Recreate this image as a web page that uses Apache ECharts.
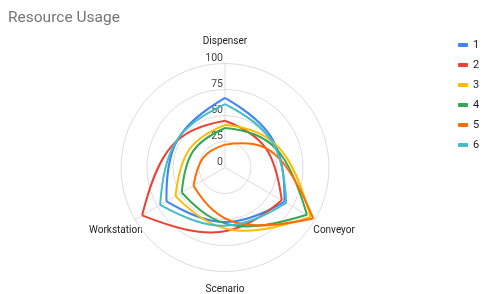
<!DOCTYPE html>
<html><head><meta charset="utf-8">
<script src="https://cdn.jsdelivr.net/npm/echarts@6/dist/echarts.min.js"></script>
<style>html,body{margin:0;padding:0;background:#fff}#c{width:482px;height:294px}</style>
</head><body><div id="c"></div>
<script>
const indicators = ['Dispenser', 'Conveyor', 'Workstation'];
const seriesNames = ['1', '2', '3', '4', '5', '6'];
const s1 = [67, 66, 65];
const s2 = [45, 63, 92];
const s3 = [41, 95, 55];
const s4 = [38, 91, 48];
const s5 = [22, 98, 35];
const s6 = [61, 68, 72];
const radiusTicks = [0, 25, 50, 75, 100];
const colors = ['#4285F4', '#EA4335', '#FBBC04', '#34A853', '#FF6D01', '#46BDC6'];
const allSeries = [s1, s2, s3, s4, s5, s6];

const FONT = 'Roboto';
const CX = 225, CY = 167.5, R = 104, LABEL_R = 126;
const chart = echarts.init(document.getElementById('c'), null, {renderer: 'canvas'});

function makeSeries(vals, idx) {
  const n = vals.length;
  const k = 0.8;
  return {
    name: seriesNames[idx],
    type: 'custom',
    coordinateSystem: 'polar',
    itemStyle: {color: colors[idx]},
    data: vals.map((v, i) => [v, i]),
    renderItem: function (params, api) {
      const i = params.dataIndex;
      const r0 = api.value(0);
      const r1 = vals[(i + 1) % n];
      const p0 = api.coord([r0, i]);
      const p1 = api.coord([r1, i + 1]);
      const m = api.coord([(r0 + r1) / 2, i + 0.5]);
      const c0 = [p0[0] + k * (m[0] - p0[0]), p0[1] + k * (m[1] - p0[1])];
      const c1 = [p1[0] + k * (m[0] - p1[0]), p1[1] + k * (m[1] - p1[1])];
      return {
        type: 'bezierCurve',
        shape: {x1: p0[0], y1: p0[1], x2: p1[0], y2: p1[1],
                cpx1: c0[0], cpy1: c0[1], cpx2: c1[0], cpy2: c1[1]},
        style: {stroke: colors[idx], lineWidth: 2, fill: null}
      };
    }
  };
}

const nameLabels = indicators.map((name, i) => {
  const ang = Math.PI / 2 - i * 2 * Math.PI / indicators.length;
  return {
    type: 'text',
    x: CX + LABEL_R * Math.cos(ang),
    y: CY - LABEL_R * Math.sin(ang),
    style: {text: name, font: '10px Roboto', fill: '#222', textAlign: 'center', textVerticalAlign: 'middle'}
  };
});

chart.setOption({
  animation: false,
  title: {
    text: 'Resource Usage', left: 3, top: 5,
    textStyle: {fontFamily: FONT, fontSize: 15.5, fontWeight: 'normal', color: '#757575'}
  },
  legend: {
    orient: 'vertical', left: 453, top: 33,
    icon: 'roundRect', itemWidth: 10, itemHeight: 4, itemGap: 6,
    textStyle: {fontFamily: FONT, fontSize: 11, color: '#222', lineHeight: 14},
    data: seriesNames
  },
  polar: {center: [CX, CY], radius: R},
  angleAxis: {
    type: 'value', min: 0, max: indicators.length, interval: 1,
    startAngle: 90, clockwise: true,
    axisLine: {show: false}, axisTick: {show: false},
    splitLine: {show: true, lineStyle: {color: '#dcdcdc', width: 1}},
    axisLabel: {show: false}
  },
  radiusAxis: {
    type: 'value', min: radiusTicks[0], max: radiusTicks[radiusTicks.length - 1], interval: 25,
    axisLine: {show: false}, axisTick: {show: false},
    splitLine: {show: true, lineStyle: {color: '#dcdcdc', width: 1}},
    axisLabel: {margin: 2, fontFamily: FONT, fontSize: 10.5, color: '#444', verticalAlign: 'bottom', showMinLabel: true}
  },
  graphic: nameLabels.concat([{
    type: 'text', x: CX, y: 289,
    style: {text: 'Scenario', font: '10px Roboto', fill: '#222', textAlign: 'center', textVerticalAlign: 'middle'}
  }]),
  series: allSeries.map(makeSeries)
});
</script></body></html>
